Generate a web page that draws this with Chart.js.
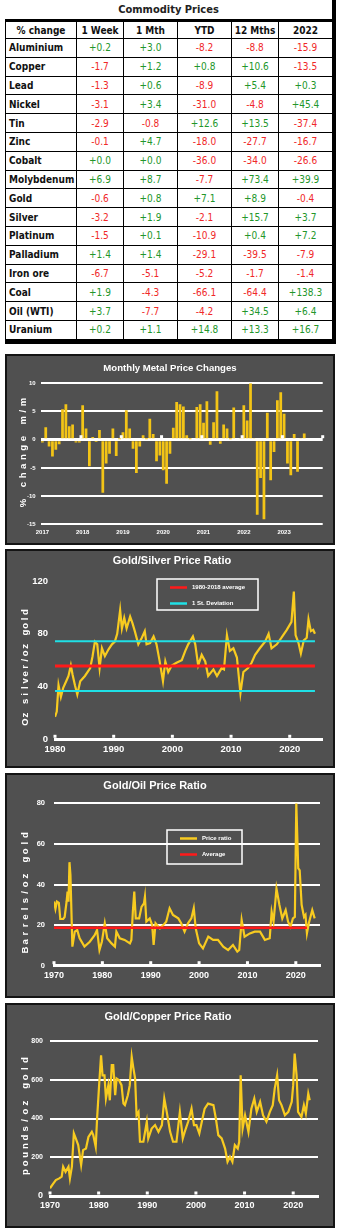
<!DOCTYPE html>
<html lang="en">
<head>
    <meta charset="UTF-8">
    <title>Commodity Prices</title>
    <link rel="shortcut icon" href="data:">
    <style>
        *{box-sizing:border-box}
        body{margin:0;width:338px;height:1230px;position:relative;background:#fff;font-family:'DejaVu Sans Condensed','DejaVu Sans',sans-serif}
        #prices{position:absolute;left:5px;top:0;width:331px;height:344px;border-right:4px solid #000;border-bottom:4px solid #000}
        #prices h1{margin:0;height:19px;line-height:20px;font-size:11px;font-weight:bold;text-align:center;color:#222}
        #prices table{width:327px;table-layout:fixed;border-collapse:separate;border-spacing:0;border-top:3px solid #000;border-left:1px solid #000}
        #prices th,#prices td{padding:0;border-right:1px solid #000;border-bottom:1px solid #000;font-size:10px;white-space:nowrap;overflow:hidden}
        #prices thead tr{height:17px}
        #prices tbody tr{height:18.8px}
        #prices th{font-weight:bold;color:#111;text-align:center}
        #prices td.name{font-weight:bold;color:#111;padding-left:3px}
        #prices td.val{text-align:center}
        .up{color:#22962a}
        .down{color:#f02828}
        .panel{position:absolute;left:5px;width:330px;background:#505050;border:2px solid #141414}
        canvas{position:absolute;left:5px}
    </style>
    <script src="https://cdn.jsdelivr.net/npm/chart.js@4.4.0/dist/chart.umd.min.js"></script>
</head>
<body>
    <div id="prices">
        <h1>Commodity Prices</h1>
        <table>
            <colgroup><col style="width:71px"><col style="width:47px"><col style="width:54px"><col style="width:54px"><col style="width:47px"><col style="width:54px"></colgroup>
            <thead><tr id="price-head"></tr></thead>
            <tbody id="price-body"></tbody>
        </table>
    </div>

    <div class="panel" style="top:354px;height:191px"></div>
    <canvas id="monthly-chart" width="330" height="191" style="top:354px"></canvas>

    <div class="panel" style="top:549px;height:219px"></div>
    <canvas id="silver-chart" width="330" height="219" style="top:549px"></canvas>

    <div class="panel" style="top:773px;height:225px"></div>
    <canvas id="oil-chart" width="330" height="225" style="top:773px"></canvas>

    <div class="panel" style="top:1003px;height:225px"></div>
    <canvas id="copper-chart" width="330" height="225" style="top:1003px"></canvas>

    <script>
        // Price table
        const tableHeads = ['% change', '1 Week', '1 Mth', 'YTD', '12 Mths', '2022'];
        const commodities = ['Aluminium', 'Copper', 'Lead', 'Nickel', 'Tin', 'Zinc', 'Cobalt', 'Molybdenum', 'Gold', 'Silver', 'Platinum', 'Palladium', 'Iron ore', 'Coal', 'Oil (WTI)', 'Uranium'];
        const oneWeek = [0.2, -1.7, -1.3, -3.1, -2.9, -0.1, 0.0, 6.9, -0.6, -3.2, -1.5, 1.4, -6.7, 1.9, 3.7, 0.2];
        const oneMonth = [3.0, 1.2, 0.6, 3.4, -0.8, 4.7, 0.0, 8.7, 0.8, 1.9, 0.1, 1.4, -5.1, -4.3, -7.7, 1.1];
        const yearToDate = [-8.2, 0.8, -8.9, -31.0, 12.6, -18.0, -36.0, -7.7, 7.1, -2.1, -10.9, -29.1, -5.2, -66.1, -4.2, 14.8];
        const twelveMonths = [-8.8, 10.6, 5.4, -4.8, 13.5, -27.7, -34.0, 73.4, 8.9, 15.7, 0.4, -39.5, -1.7, -64.4, 34.5, 13.3];
        const year2022 = [-15.9, -13.5, 0.3, 45.4, -37.4, -16.7, -26.6, 39.9, -0.4, 3.7, 7.2, -7.9, -1.4, 138.3, 6.4, 16.7];

        // Monthly metal price changes (%), Jan 2017 onwards
        const barYears = ['2017', '2018', '2019', '2020', '2021', '2022', '2023'];
        const monthlyChange = [
            -0.5, 2.2, -1.2, -3.0, -1.8, -0.8, 5.4, 6.3, 2.4, 2.7, -0.5, -0.5,
            6.1, 2.0, -4.7, 0.5, -0.4, 1.7, -9.4, -4.2, -2.5, 2.0, -2.9, 0.1,
            1.3, 5.2, 2.0, -1.6, -5.9, -1.2, 0.8, 0.1, 3.7, 1.0, -3.8, -2.8,
            -5.4, -7.8, -2.5, 2.1, 6.7, 6.3, 5.9, 0.8, 0.1, 0.0, 5.8, 6.3,
            3.0, 6.8, -0.9, 3.1, 8.6, -0.7, 2.7, 2.0, 0.1, 5.7, 0.0, 0.2,
            6.1, 3.4, 10.0, 0.2, -13.3, -6.8, -14.1, 4.8, -7.2, -2.2, 7.0, 8.4,
            4.6, -4.2, -6.3, 1.0, -5.7, 0.3, 1.1
        ];

        // Gold/silver ratio
        const gsYears = [1980.0, 1980.3, 1980.6, 1981.0, 1981.4, 1982.0, 1982.3, 1982.7, 1983.0, 1983.4, 1983.8, 1984.3, 1985.1, 1986.0, 1986.4, 1986.8, 1987.2, 1987.6, 1988.0, 1988.5, 1989.1, 1989.7, 1990.2, 1990.6, 1991.1, 1991.4, 1991.8, 1992.2, 1992.8, 1993.2, 1993.6, 1994.2, 1994.8, 1995.3, 1995.6, 1996.2, 1996.8, 1997.3, 1997.8, 1998.4, 1998.8, 1999.3, 1999.9, 2000.7, 2001.6, 2002.2, 2002.7, 2003.5, 2003.9, 2004.4, 2005.0, 2005.6, 2006.1, 2007.0, 2007.6, 2008.4, 2008.8, 2009.3, 2009.8, 2010.4, 2011.0, 2011.4, 2011.6, 2012.1, 2012.9, 2013.5, 2014.1, 2014.9, 2015.8, 2016.4, 2016.9, 2017.8, 2018.6, 2019.5, 2020.3, 2020.7, 2021.0, 2021.5, 2021.9, 2022.4, 2022.9, 2023.2, 2023.6, 2024.0, 2024.3];
        const gsRatio = [17, 21, 41, 32, 39, 45, 48, 56, 49, 41, 34, 44, 48, 54, 63, 74, 72, 54, 69, 63, 68, 72, 74, 80, 98, 84, 92, 84, 93, 88, 82, 72, 77, 82, 72, 73, 78, 72, 60, 44, 59, 51, 56, 58, 60, 67, 72, 78, 72, 56, 64, 59, 48, 53, 48, 54, 53, 79, 67, 69, 62, 44, 35, 51, 54, 58, 64, 69, 74, 80, 69, 72, 77, 83, 89, 112, 79, 73, 65, 75, 77, 91, 82, 83, 80];
        const gsSpan = [1980, 2024.3];
        const gsAverage = 55.5;
        const gsStdDev = 18.8;

        // Gold/oil ratio
        const goYears = [1970.0, 1970.3, 1970.6, 1971.0, 1971.3, 1971.9, 1972.2, 1972.6, 1972.8, 1973.0, 1973.2, 1973.4, 1973.8, 1974.3, 1974.8, 1975.3, 1976.3, 1977.4, 1978.4, 1978.9, 1979.4, 1979.9, 1980.5, 1981.0, 1981.9, 1982.6, 1982.9, 1983.6, 1984.6, 1985.7, 1986.0, 1986.3, 1986.6, 1986.9, 1987.6, 1988.1, 1988.6, 1988.8, 1989.1, 1989.8, 1990.3, 1990.6, 1991.0, 1991.9, 1992.6, 1993.2, 1993.9, 1994.6, 1995.7, 1996.3, 1997.0, 1997.7, 1998.4, 1998.9, 1999.3, 2000.0, 2000.8, 2001.9, 2002.9, 2003.9, 2005.0, 2006.0, 2007.0, 2007.9, 2008.3, 2008.8, 2009.4, 2010.5, 2011.5, 2012.6, 2013.6, 2014.6, 2015.0, 2015.4, 2016.0, 2016.6, 2017.2, 2017.9, 2018.4, 2018.9, 2019.4, 2019.8, 2020.1, 2020.5, 2020.8, 2021.2, 2021.7, 2022.0, 2022.3, 2022.7, 2023.4, 2023.9];
        const goRatio = [31.6, 28, 31.6, 31, 23, 23, 24, 31.5, 36.5, 31.5, 51, 44.7, 9.4, 16.8, 17.6, 13.5, 9.4, 11.8, 15, 17.6, 7.7, 11.8, 20.9, 13.5, 11, 9.4, 16.8, 13.5, 12.7, 11, 12.7, 26.6, 36.5, 23.3, 23.3, 29, 30.7, 34, 21.7, 23.3, 20, 10.2, 20.9, 18.4, 20, 21.7, 28.3, 25, 23.3, 20.9, 16.8, 20.9, 23.3, 28.3, 18.4, 11, 8.5, 14.3, 12.7, 12.7, 9.4, 7.7, 10.2, 6.9, 7.7, 22.5, 14.3, 15.9, 16.8, 16.8, 12.7, 13.5, 26.6, 21.7, 38, 30, 23.3, 27.4, 21.7, 19.2, 23.3, 24, 80, 48, 47, 30, 24, 25, 16, 21, 27.4, 23.3];
        const goSpan = [1970, 2022.3];
        const goAverage = 18.7;

        // Gold/copper ratio
        const gcYears = [1970.0, 1970.7, 1971.2, 1971.9, 1972.4, 1972.7, 1973.2, 1973.8, 1974.1, 1974.5, 1974.9, 1975.3, 1975.8, 1976.4, 1976.8, 1977.4, 1977.9, 1978.6, 1978.9, 1979.4, 1979.7, 1980.1, 1980.5, 1980.8, 1981.2, 1981.5, 1982.0, 1982.3, 1982.7, 1983.0, 1983.4, 1983.7, 1984.2, 1984.7, 1985.1, 1985.4, 1986.0, 1986.4, 1986.8, 1987.1, 1987.5, 1987.8, 1988.2, 1988.5, 1989.2, 1989.9, 1990.2, 1990.9, 1991.6, 1992.3, 1993.0, 1993.5, 1994.0, 1994.7, 1995.3, 1996.0, 1996.7, 1997.3, 1997.7, 1998.4, 1999.1, 1999.6, 2000.1, 2000.7, 2001.5, 2001.8, 2002.5, 2003.6, 2004.1, 2004.6, 2005.3, 2006.0, 2006.5, 2007.0, 2007.5, 2008.0, 2008.6, 2008.9, 2009.2, 2009.6, 2010.1, 2010.8, 2011.4, 2012.0, 2012.5, 2013.2, 2013.8, 2014.5, 2015.2, 2015.8, 2016.2, 2016.7, 2017.1, 2017.6, 2018.3, 2019.0, 2019.7, 2020.0, 2020.3, 2020.7, 2021.0, 2021.7, 2022.2, 2022.6, 2023.1, 2023.4];
        const gcRatio = [40, 65, 82, 91, 100, 151, 125, 151, 91, 151, 323, 297, 263, 160, 237, 245, 305, 331, 314, 254, 408, 572, 726, 623, 623, 503, 572, 494, 675, 675, 520, 606, 597, 572, 477, 469, 520, 572, 718, 666, 606, 417, 434, 280, 280, 383, 297, 348, 366, 331, 366, 503, 434, 331, 280, 280, 434, 297, 331, 383, 451, 366, 366, 323, 417, 451, 477, 469, 400, 314, 297, 245, 177, 203, 177, 263, 245, 280, 623, 348, 417, 331, 451, 503, 434, 486, 417, 383, 434, 469, 554, 623, 494, 469, 417, 434, 486, 572, 735, 623, 434, 408, 469, 426, 529, 494];

        const decades = [1970, 1980, 1990, 2000, 2010, 2020];
        const GOLD = '#f8cb20';
        const BAR = '#f3c416';

        // Build the price table
        document.getElementById('price-head').innerHTML = tableHeads.map(h => '<th>' + h + '</th>').join('');
        const fmt = v => (v >= 0 ? '+' : '') + v.toFixed(1);
        const cell = v => '<td class="val ' + (v >= 0 ? 'up' : 'down') + '">' + fmt(v) + '</td>';
        document.getElementById('price-body').innerHTML = commodities.map((name, i) =>
            '<tr><td class="name">' + name + '</td>' + cell(oneWeek[i]) + cell(oneMonth[i]) + cell(yearToDate[i]) + cell(twelveMonths[i]) + cell(year2022[i]) + '</tr>'
        ).join('');

        Chart.defaults.font.family = "'Liberation Sans', Arial, sans-serif";
        Chart.defaults.color = '#fff';

        // Title and the sideways-stacked value axis caption
        const panelText = {
            id: 'panelText',
            afterDraw(chart, args, opts) {
                const ctx = chart.ctx;
                ctx.save();
                ctx.fillStyle = '#fff';
                ctx.textAlign = 'center';
                ctx.textBaseline = 'middle';
                ctx.font = opts.titleFont;
                ctx.fillText(opts.title, opts.titleX, opts.titleY);
                const chars = [...opts.side];
                const step = (opts.sideBottom - opts.sideTop) / (chars.length - 1);
                ctx.font = 'bold 9.5px "Liberation Sans", Arial, sans-serif';
                chars.forEach((c, i) => {
                    ctx.save();
                    ctx.translate(opts.sideX, opts.sideBottom - i * step);
                    ctx.rotate(-Math.PI / 2);
                    ctx.fillText(c, 0, 0);
                    ctx.restore();
                });
                ctx.restore();
            }
        };

        // Little square notches on the zero line
        const axisMarks = {
            id: 'axisMarks',
            afterDatasetsDraw(chart, args, opts) {
                if (!opts.values) return;
                const ctx = chart.ctx;
                const y0 = chart.scales.y.getPixelForValue(0);
                ctx.save();
                ctx.fillStyle = '#fff';
                opts.values.forEach(v => {
                    const px = chart.scales.x.getPixelForValue(v);
                    ctx.fillRect(px - 1.5, y0 - 4.5, 3, 3);
                });
                ctx.restore();
            }
        };

        // Framed legend box listing datasets flagged with inLegend
        const boxLegend = {
            id: 'boxLegend',
            afterDraw(chart, args, opts) {
                if (!opts.box) return;
                const ctx = chart.ctx;
                const [x, y, w, h] = opts.box;
                ctx.save();
                ctx.strokeStyle = '#fff';
                ctx.lineWidth = 1.5;
                ctx.strokeRect(x, y, w, h);
                ctx.font = 'bold 6px "Liberation Sans", Arial, sans-serif';
                ctx.fillStyle = '#fff';
                ctx.textBaseline = 'middle';
                chart.data.datasets.filter(d => d.inLegend).forEach((d, i) => {
                    const ly = y + 8.5 + i * 16;
                    ctx.strokeStyle = d.borderColor;
                    ctx.lineWidth = 2.5;
                    ctx.beginPath();
                    ctx.moveTo(x + 13, ly);
                    ctx.lineTo(x + 30, ly);
                    ctx.stroke();
                    ctx.fillText(d.label, x + 35, ly);
                });
                ctx.restore();
            }
        };

        Chart.register(panelText, axisMarks, boxLegend);

        const base = {
            responsive: false,
            animation: false,
            devicePixelRatio: 1,
            events: []
        };

        function series(xs, ys, color, width, extra) {
            return Object.assign({
                data: xs.map((x, i) => ({ x: x, y: ys[i] })),
                borderColor: color,
                borderWidth: width,
                pointRadius: 0,
                tension: 0
            }, extra);
        }

        function flat(span, v, color, width, extra) {
            return series(span, [v, v], color, width, extra);
        }

        function yearAxis(min, max, size, height) {
            return {
                type: 'linear',
                min: min,
                max: max,
                afterBuildTicks: s => { s.ticks = decades.filter(d => d >= min).map(d => ({ value: d })); },
                ticks: { color: '#fff', font: { size: size, weight: 'bold' }, padding: 4, maxRotation: 0, callback: v => String(v) },
                grid: { drawOnChartArea: false, drawTicks: false },
                border: { color: '#fff', width: 3 },
                afterFit: s => { s.height = height; }
            };
        }

        // Monthly metal price changes
        const barLabels = barYears.flatMap(y => Array.from({ length: 12 }, (_, m) => y + '-' + String(m + 1).padStart(2, '0')));
        new Chart(document.getElementById('monthly-chart'), {
            type: 'bar',
            data: {
                labels: barLabels,
                datasets: [{ data: monthlyChange, backgroundColor: BAR, barPercentage: 0.82, categoryPercentage: 1 }]
            },
            options: Object.assign({}, base, {
                layout: { padding: { left: 5.7, right: 12.3, top: 29.3, bottom: 6.7 } },
                plugins: {
                    legend: { display: false },
                    tooltip: { enabled: false },
                    panelText: { title: 'Monthly Metal Price Changes', titleFont: 'bold 9.6px "Liberation Sans", Arial, sans-serif', titleX: 165, titleY: 14, side: '% change m/m', sideX: 18, sideTop: 48, sideBottom: 149 },
                    axisMarks: { values: [11.5, 23.5, 35.5, 47.5, 59.5, 71.5, 83.5] }
                },
                scales: {
                    x: {
                        grid: { display: false, drawTicks: false },
                        border: { display: false },
                        ticks: { autoSkip: false, maxRotation: 0, padding: 4, color: '#fff', font: { size: 6, weight: 'bold' }, callback: (v, i) => i % 12 === 0 ? barLabels[i].slice(0, 4) : '' },
                        afterFit: s => { s.height = 14; }
                    },
                    y: {
                        min: -15,
                        max: 10,
                        ticks: { stepSize: 5, padding: 5, color: '#fff', font: { size: 6, weight: 'bold' } },
                        grid: { color: '#fff', lineWidth: c => c.tick && c.tick.value === 0 ? 3 : 2, drawTicks: false },
                        border: { display: false },
                        afterFit: s => { s.width = 30; }
                    }
                }
            })
        });

        // Gold/silver ratio
        new Chart(document.getElementById('silver-chart'), {
            type: 'line',
            data: {
                datasets: [
                    flat(gsSpan, gsAverage, '#ff1a1a', 3, { label: '1980-2018 average', inLegend: true }),
                    flat(gsSpan, gsAverage + gsStdDev, '#1fe0e6', 2, { label: '1 St. Deviation', inLegend: true }),
                    flat(gsSpan, gsAverage - gsStdDev, '#1fe0e6', 2, { label: '1 St. Deviation' }),
                    series(gsYears, gsRatio, GOLD, 2.2, { label: 'Gold/silver ratio' })
                ]
            },
            options: Object.assign({}, base, {
                layout: { padding: { left: 10, right: 13, top: 32, bottom: 10.7 } },
                plugins: {
                    legend: { display: false },
                    tooltip: { enabled: false },
                    panelText: { title: 'Gold/Silver Price Ratio', titleFont: 'bold 11px "Liberation Sans", Arial, sans-serif', titleX: 167, titleY: 12, side: 'Oz silver/oz gold', sideX: 20, sideTop: 63, sideBottom: 173 },
                    axisMarks: { values: [1980, 1990, 2000, 2010, 2020] },
                    boxLegend: { box: [152, 30, 101, 31] }
                },
                scales: {
                    x: yearAxis(1980, 2025.5, 9.5, 18),
                    y: {
                        min: 0,
                        max: 120,
                        ticks: { stepSize: 40, padding: 7, color: '#fff', font: { size: 9.5, weight: 'bold' } },
                        grid: { display: false, drawTicks: false },
                        border: { display: false },
                        afterFit: s => { s.width = 40; }
                    }
                }
            })
        });

        // Gold/oil ratio
        new Chart(document.getElementById('oil-chart'), {
            type: 'line',
            data: {
                datasets: [
                    series(goYears, goRatio, GOLD, 2.2, { label: 'Price ratio', inLegend: true, order: 1 }),
                    flat(goSpan, goAverage, '#ff1a1a', 2.5, { label: 'Average', inLegend: true, order: 0 })
                ]
            },
            options: Object.assign({}, base, {
                layout: { padding: { left: 14, right: 15, top: 30.3, bottom: 12.3 } },
                plugins: {
                    legend: { display: false },
                    tooltip: { enabled: false },
                    panelText: { title: 'Gold/Oil Price Ratio', titleFont: 'bold 11px "Liberation Sans", Arial, sans-serif', titleX: 150, titleY: 13, side: 'Barrels/oz gold', sideX: 20, sideTop: 62, sideBottom: 177 },
                    axisMarks: { values: decades },
                    boxLegend: { box: [162, 57, 75, 34] }
                },
                scales: {
                    x: yearAxis(1970, 2025, 9, 20),
                    y: {
                        min: 0,
                        max: 80,
                        ticks: { stepSize: 20, padding: 9, color: '#fff', font: { size: 7.5, weight: 'bold' } },
                        grid: { color: '#fff', lineWidth: 2, drawTicks: false },
                        border: { display: false },
                        afterFit: s => { s.width = 35; }
                    }
                }
            })
        });

        // Gold/copper ratio
        new Chart(document.getElementById('copper-chart'), {
            type: 'line',
            data: {
                datasets: [series(gcYears, gcRatio, GOLD, 2.2, { label: 'Gold/copper ratio' })]
            },
            options: Object.assign({}, base, {
                layout: { padding: { left: 10, right: 17, top: 38, bottom: 12 } },
                plugins: {
                    legend: { display: false },
                    tooltip: { enabled: false },
                    panelText: { title: 'Gold/Copper Price Ratio', titleFont: 'bold 11px "Liberation Sans", Arial, sans-serif', titleX: 163, titleY: 14, side: 'pounds/oz gold', sideX: 20, sideTop: 57, sideBottom: 169 },
                    axisMarks: { values: decades }
                },
                scales: {
                    x: yearAxis(1970, 2025.1, 9, 20),
                    y: {
                        min: 0,
                        max: 800,
                        ticks: { stepSize: 200, padding: 7, color: '#fff', font: c => ({ size: c.tick && c.tick.value === 0 ? 9 : 7, weight: 'bold' }) },
                        grid: { color: '#fff', lineWidth: 2, drawTicks: false },
                        border: { display: false },
                        afterFit: s => { s.width = 35; }
                    }
                }
            })
        });
    </script>
</body>
</html>
